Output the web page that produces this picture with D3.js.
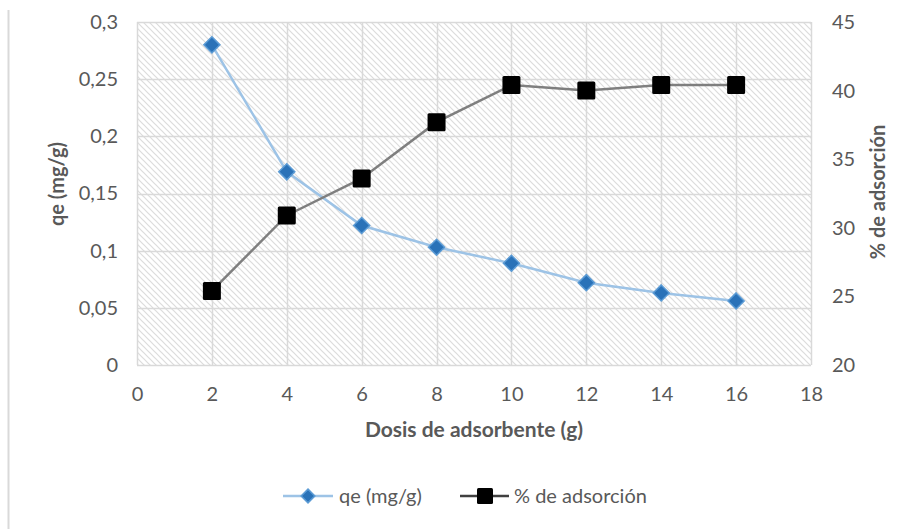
<!DOCTYPE html>
<html lang="es">
<head>
<meta charset="UTF-8">
<title>qe y % de adsorción</title>
<script src="https://cdn.jsdelivr.net/npm/d3@7/dist/d3.min.js"></script>
<style>
    body { margin: 0; background: #fff; font-family: Lato, "Open Sans", sans-serif; }
    .tick text { fill: #595959; font-size: 20px; font-family: Lato, sans-serif; }
    .axis-title { fill: #595959; font-size: 20px; font-weight: bold; }
    .legend text { fill: #595959; font-size: 20px; }
</style>
</head>
<body>
<div id="chart"></div>
<script>
    // data
    const dosis = [2, 4, 6, 8, 10, 12, 14, 16];
    const qe = [0.280, 0.169, 0.122, 0.103, 0.089, 0.072, 0.063, 0.056];
    const adsorcion = [25.4, 30.9, 33.6, 37.7, 40.4, 40.0, 40.4, 40.4];
    const xTicks = [0, 2, 4, 6, 8, 10, 12, 14, 16, 18];
    const qeTicks = [0, 0.05, 0.1, 0.15, 0.2, 0.25, 0.3];
    const pctTicks = [20, 25, 30, 35, 40, 45];

    const W = 907, H = 529;
    const margin = { top: 22, right: 96, bottom: 164, left: 137 };
    const width = W - margin.left - margin.right;
    const height = H - margin.top - margin.bottom;

    const svg = d3.select("#chart").append("svg")
        .attr("width", W).attr("height", H);

    // hatch pattern of the plot area
    const defs = svg.append("defs");
    const pat = defs.append("pattern")
        .attr("id", "hatch")
        .attr("patternUnits", "userSpaceOnUse")
        .attr("width", 6).attr("height", 6);
    pat.append("rect").attr("width", 6).attr("height", 6).attr("fill", "#fff");
    pat.append("path")
        .attr("d", "M-1,-1 L7,7 M-4,2 L2,8 M4,-2 L10,4")
        .attr("stroke", "#dcdcdc")
        .attr("stroke-width", 1.2);

    // left border of the chart frame
    svg.append("line")
        .attr("x1", 8.5).attr("x2", 8.5)
        .attr("y1", 10).attr("y2", H)
        .attr("stroke", "#d9d9d9").attr("stroke-width", 2);

    const g = svg.append("g")
        .attr("transform", `translate(${margin.left},${margin.top})`);

    const x = d3.scaleLinear().domain([0, 18]).range([0, width]);
    const yL = d3.scaleLinear().domain([0, 0.3]).range([height, 0]);
    const yR = d3.scaleLinear().domain([20, 45]).range([height, 0]);

    g.append("rect")
        .attr("width", width).attr("height", height)
        .attr("fill", "url(#hatch)");

    // grid
    g.append("g")
        .selectAll("line.h")
        .data(qeTicks)
        .enter().append("line")
        .attr("x1", 0).attr("x2", width)
        .attr("y1", d => Math.round(yL(d)) + 0.5)
        .attr("y2", d => Math.round(yL(d)) + 0.5)
        .attr("stroke", "#d9d9d9").attr("stroke-width", 1.5);
    g.append("g")
        .selectAll("line.v")
        .data(xTicks)
        .enter().append("line")
        .attr("y1", 0).attr("y2", height)
        .attr("x1", d => Math.round(x(d)) + 0.5)
        .attr("x2", d => Math.round(x(d)) + 0.5)
        .attr("stroke", "#d9d9d9").attr("stroke-width", 1.5);

    const comma = d => String(d).replace(".", ",");

    // axes (labels only)
    const xAxis = g.append("g")
        .attr("transform", `translate(0,${height})`)
        .call(d3.axisBottom(x).tickValues(xTicks).tickSize(0).tickPadding(22).tickFormat(comma));
    const yAxisL = g.append("g")
        .call(d3.axisLeft(yL).tickValues(qeTicks).tickSize(0).tickPadding(19).tickFormat(comma));
    const yAxisR = g.append("g")
        .attr("transform", `translate(${width},0)`)
        .call(d3.axisRight(yR).tickValues(pctTicks).tickSize(0).tickPadding(21).tickFormat(comma));
    [xAxis, yAxisL, yAxisR].forEach(a => a.select(".domain").remove());

    // axis titles
    g.append("text")
        .attr("class", "axis-title")
        .attr("x", width / 2).attr("y", height + 72)
        .attr("text-anchor", "middle")
        .style("font-size", "21px")
        .text("Dosis de adsorbente (g)");
    g.append("text")
        .attr("class", "axis-title")
        .attr("transform", `translate(${64 - margin.left},${162}) rotate(-90)`)
        .attr("text-anchor", "middle")
        .text("qe (mg/g)");
    g.append("text")
        .attr("class", "axis-title")
        .attr("transform", `translate(${width + 74},${170}) rotate(-90)`)
        .attr("text-anchor", "middle")
        .text("% de adsorción");

    // series
    const qeData = dosis.map((d, i) => ({ x: d, y: qe[i] }));
    const pctData = dosis.map((d, i) => ({ x: d, y: adsorcion[i] }));

    g.append("path")
        .datum(qeData)
        .attr("fill", "none")
        .attr("stroke", "#9dc3e6")
        .attr("stroke-width", 2.5)
        .attr("d", d3.line().x(d => x(d.x)).y(d => yL(d.y)));

    g.append("path")
        .datum(pctData)
        .attr("fill", "none")
        .attr("stroke", "#7f7f7f")
        .attr("stroke-width", 2.5)
        .attr("d", d3.line().x(d => x(d.x)).y(d => yR(d.y)));

    const diamond = d3.symbol().type(d3.symbolDiamond2).size(165);

    g.selectAll("path.qe")
        .data(qeData)
        .enter().append("path")
        .attr("class", "qe")
        .attr("d", diamond)
        .attr("transform", d => `translate(${x(d.x)},${yL(d.y)})`)
        .attr("fill", "#2a72b8")
        .attr("stroke", "#5b9bd5")
        .attr("stroke-width", 1.5);

    g.selectAll("rect.pct")
        .data(pctData)
        .enter().append("rect")
        .attr("class", "pct")
        .attr("x", d => x(d.x) - 9)
        .attr("y", d => yR(d.y) - 9)
        .attr("width", 18).attr("height", 18)
        .attr("rx", 1.5)
        .attr("fill", "#000");

    // legend
    const legend = svg.append("g").attr("class", "legend")
        .attr("transform", "translate(0,496)");

    const l1 = legend.append("g").attr("transform", "translate(283,0)");
    l1.append("line").attr("x1", 0).attr("x2", 50)
        .attr("stroke", "#9dc3e6").attr("stroke-width", 2.5);
    l1.append("path").attr("d", d3.symbol().type(d3.symbolDiamond2).size(120))
        .attr("transform", "translate(25,0)")
        .attr("fill", "#2a72b8").attr("stroke", "#5b9bd5").attr("stroke-width", 1.5);
    l1.append("text").attr("x", 56).attr("dy", "0.35em").text("qe (mg/g)");

    const l2 = legend.append("g").attr("transform", "translate(460,0)");
    l2.append("line").attr("x1", 0).attr("x2", 49)
        .attr("stroke", "#404040").attr("stroke-width", 2.5);
    l2.append("rect").attr("x", 17).attr("y", -8).attr("width", 16).attr("height", 16)
        .attr("rx", 1.5).attr("fill", "#000");
    l2.append("text").attr("x", 54).attr("dy", "0.35em").text("% de adsorción");
</script>
</body>
</html>
